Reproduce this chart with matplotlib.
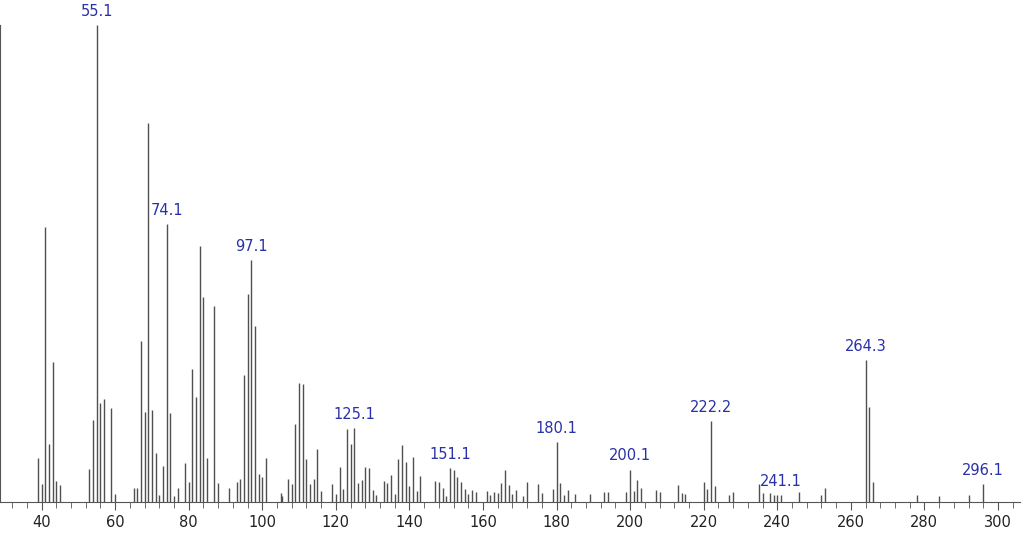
import matplotlib
matplotlib.use("Agg")
import matplotlib.pyplot as plt
from matplotlib.ticker import MultipleLocator

mz = [39,40,41,42,43,44,45,53,54,55,56,57,59,60,65,66,67,68,69,70,71,72,73,74,75,76,77,79,80,81,82,83,84,85,87,88,91,93,94,95,96,97,98,99,100,101,105,105.5,107,108,109,110,111,112,113,114,115,116,
      119,120,121,122,123,124,125,126,127,128,129,130,131,133,134,135,136,137,138,139,140,141,142,143,147,148,149,150,151,152,153,154,155,156,157,158,161,162,163,164,165,166,167,168,169,171,172,175,176,179,180,181,182,183,185,189,193,194,199,200,201,202,203,
      207,208,213,214,215,220,221,222,223,227,228,235,236,238,239,240,241,246,252,253,264,265,266,278,284,292,296]
intensity = [9.2,3.7,57.6,12.1,29.4,4.3,3.5,6.9,17.1,100,20.7,21.6,19.8,1.7,3.0,3.0,33.7,18.9,79.4,19.3,10.3,1.4,7.5,58.2,18.6,1.2,2.9,8.1,4.2,27.9,22.1,53.6,43.0,9.2,41.0,3.9,2.9,4.2,4.8,26.6,43.7,50.7,36.9,5.9,5.3,9.2,1.9,1.2,4.8,3.7,16.4,24.9,24.8,9.1,3.7,4.8,11.2,2.3,
             3.8,1.7,7.3,2.8,15.2,12.1,15.5,4.0,4.7,7.4,7.1,2.6,1.5,4.5,4.0,5.7,1.7,9.1,12.0,8.4,3.3,9.5,2.4,5.5,4.4,4.2,2.9,1.3,7.1,6.7,5.2,4.2,2.8,1.6,2.6,2.2,2.4,1.5,2.1,1.9,4.0,6.8,3.5,1.6,2.6,1.3,4.2,3.7,1.9,2.8,12.5,4.0,1.5,2.6,1.7,1.6,2.2,2.1,2.2,6.8,2.3,4.6,3.0,
             2.6,2.2,3.6,1.9,1.7,4.2,2.8,16.9,3.3,1.4,2.2,3.7,1.9,1.9,1.5,1.4,1.5,2.1,1.5,2.9,29.7,20.0,4.2,1.5,1.3,1.4,3.8]
labels = ["55.1","74.1","97.1","125.1","151.1","180.1","200.1","222.2","241.1","264.3","296.1"]
label_mz = [55,74,97,125,151,180,200,222,241,264,296]

fig = plt.figure(figsize=(10.24,5.36), dpi=100)
ax = fig.add_axes([0.0, 1-502/536, 1020/1024, 477/536])
ax.vlines(mz, 0, intensity, color="#505050", linewidth=1)
lookup = dict(zip(mz, intensity))
for lab, m in zip(labels, label_mz):
    ax.text(m, lookup[m] + 1.3, lab, ha="center", va="bottom", color="#2a30a8", fontsize=10.5, clip_on=False)
ax.set_xlim(28.7, 306)
ax.set_ylim(0, 100)
ax.xaxis.set_major_locator(MultipleLocator(20))
ax.xaxis.set_minor_locator(MultipleLocator(4))
ax.tick_params(axis="x", which="major", length=6, color="#555555", labelsize=10.5, labelcolor="#222222")
ax.tick_params(axis="x", which="minor", length=4, color="#555555")
ax.set_yticks([])
for s in ["top","right"]:
    ax.spines[s].set_visible(False)
ax.spines["bottom"].set_color("#555555")
ax.spines["left"].set_color("#555555")
fig.savefig("out.png", dpi=100)
